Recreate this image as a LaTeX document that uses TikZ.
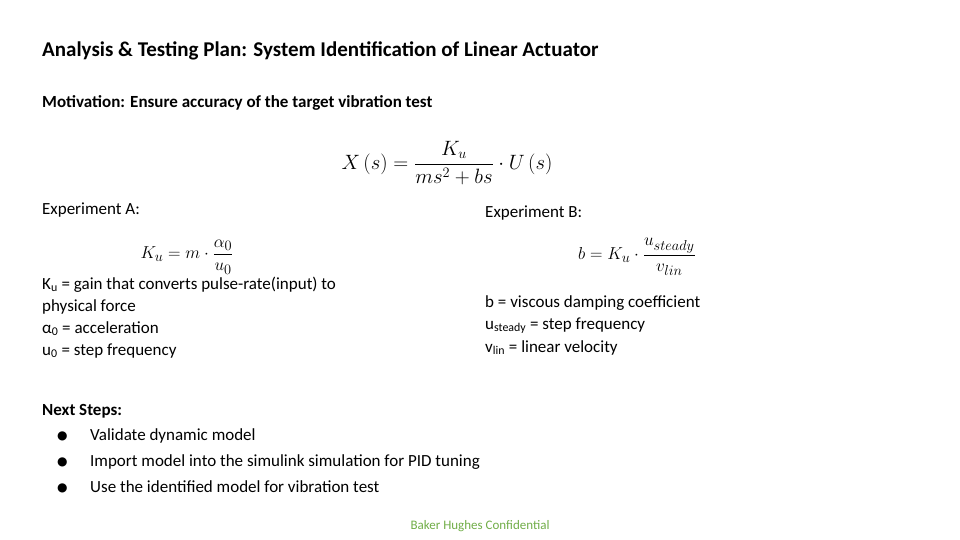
\documentclass[tikz,border=0pt]{standalone}
\usepackage{amsmath}
\usepackage{fontspec}
\setmainfont{Carlito}
\newfontfamily\symfont{DejaVu Sans}
\definecolor{foot}{RGB}{112,173,71}
\begin{document}
\begin{tikzpicture}[x=1pt,y=-1pt,
  txt/.style={anchor=base west,inner sep=0pt,font=\fontsize{17}{20}\selectfont},
  eqn/.style={anchor=center,inner sep=0pt,font=\fontsize{21}{24}\selectfont}]
\useasboundingbox (0,0) rectangle (960,540);
\node[txt,font=\fontsize{21}{24}\selectfont\bfseries] (title) at (42,57) {Analysis \& Testing Plan: System Identification of Linear Actuator};
\node[txt,font=\fontsize{17}{20}\selectfont\bfseries] (mot) at (42,108) {Motivation: Ensure accuracy of the target vibration test};
\node[eqn,font=\fontsize{22}{26}\selectfont] (tf) at (447,163) {$X\left(s\right)=\dfrac{K_u}{ms^2+bs}\cdot U\left(s\right)$};
\node[txt] (ea) at (42,214) {Experiment A:};
\node[eqn,font=\fontsize{19}{22}\selectfont] (kueq) at (187,257) {$K_u=m\cdot\dfrac{\alpha_0}{u_0}$};
\node[txt] (a1) at (42,289) {K\textsubscript{u} = gain that converts pulse-rate(input) to};
\node[txt] (a2) at (42,311) {physical force};
\node[txt] (a3) at (42,333) {α\textsubscript{0} = acceleration};
\node[txt] (a4) at (42,355) {u\textsubscript{0} = step frequency};
\node[txt] (eb) at (485,217) {Experiment B:};
\node[eqn,font=\fontsize{19}{22}\selectfont] (beq) at (637,257) {$b=K_u\cdot\dfrac{u_{steady}}{v_{lin}}$};
\node[txt] (b1) at (485,307) {b = viscous damping coefficient};
\node[txt] (b2) at (485,329) {u\textsubscript{steady} = step frequency};
\node[txt] (b3) at (485,352) {v\textsubscript{lin} = linear velocity};
\node[txt,font=\fontsize{17}{20}\selectfont\bfseries] (ns) at (42,415) {Next Steps:};
\foreach \y/\t [count=\i] in {440/Validate dynamic model,466/Import model into the simulink simulation for PID tuning,492/Use the identified model for vibration test}{
  \node[txt,font=\fontsize{12}{14}\selectfont\symfont] (bul\i) at (57,\y-1) {●};
  \node[txt] (s\i) at (90,\y) {\t};
}
\node[anchor=base,inner sep=0pt,font=\fontsize{13}{15}\selectfont,text=foot] (foot) at (480,529) {Baker Hughes Confidential};
\end{tikzpicture}
\end{document}
